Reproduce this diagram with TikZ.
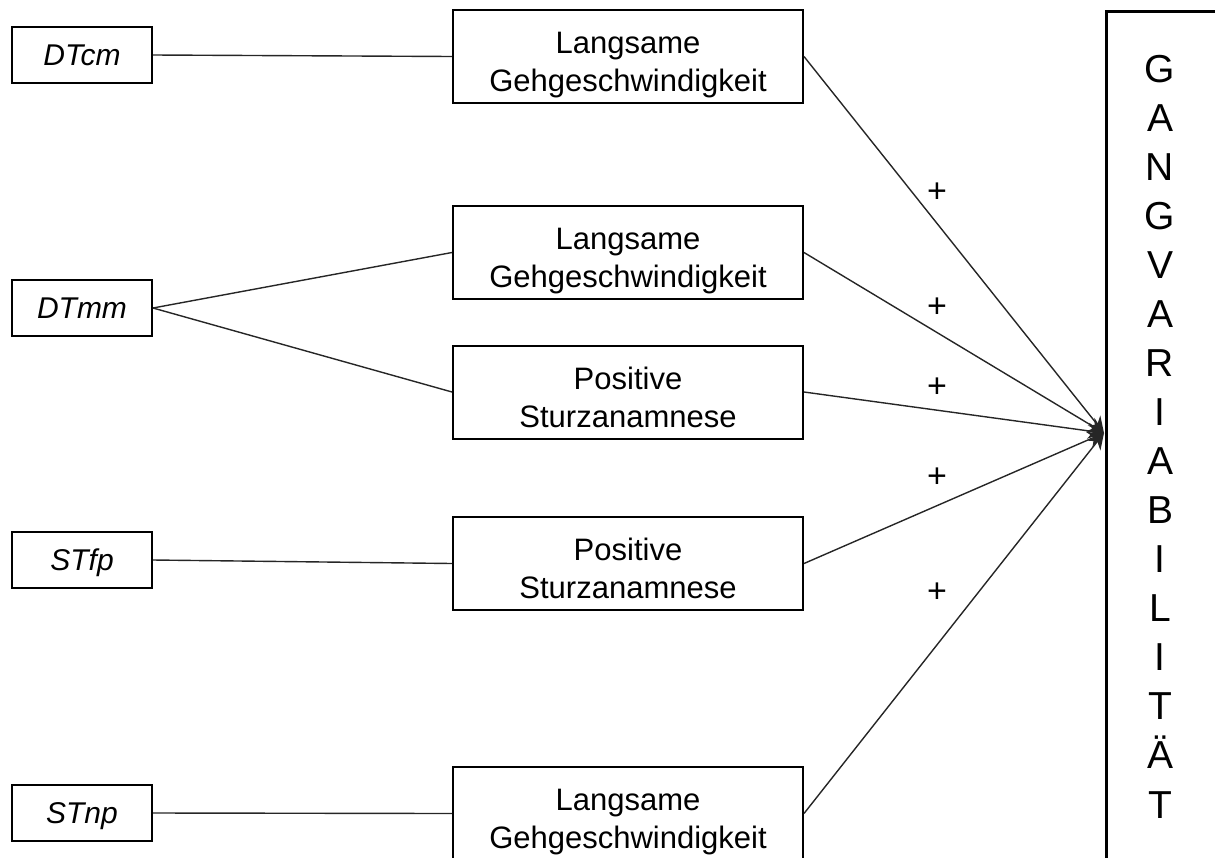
\documentclass[tikz,border=0pt]{standalone}
\usepackage{fontspec}
\setmainfont{Liberation Sans}
\usepackage{tikz}
\usetikzlibrary{arrows.meta}
\tikzset{
    every node/.style={font=\fontsize{15.5}{18.8}\selectfont},
    factor/.style={draw, rectangle, line width=1pt, minimum width=70pt, minimum height=28pt, inner sep=0pt,
        text height=10.6pt, text depth=0pt, font=\fontsize{15}{17}\selectfont\itshape},
    effect/.style={draw, rectangle, line width=1pt, minimum width=175pt, minimum height=46.5pt, inner sep=0pt, align=center,
        text height=35pt, text depth=0pt},
    link/.style={line width=0.7pt, draw=black!85},
    sign/.style={font=\fontsize{17}{19}\selectfont},
    letter/.style={anchor=base, inner sep=0pt, font=\fontsize{19.5}{22}\selectfont}
}

\begin{document}
\begin{tikzpicture}[x=0.5pt, y=-0.5pt]
        \useasboundingbox (0,0) rectangle (1215,857);
        \clip (0,0) rectangle (1215,857);

        \node[factor] (dtcm) at (82,55) {DTcm};
        \node[factor] (dtmm) at (82,308) {DTmm};
        \node[factor] (stfp) at (82,560) {STfp};
        \node[factor] (stnp) at (82,813) {STnp};

        \node[effect] (slow1) at (628,56.5) {Langsame\\Gehgeschwindigkeit};
        \node[effect] (slow2) at (628,252.5) {Langsame\\Gehgeschwindigkeit};
        \node[effect] (fall1) at (628,392) {Positive\\Sturzanamnese};
        \node[effect] (fall2) at (628,563.5) {Positive\\Sturzanamnese};
        \node[effect] (slow3) at (628,813.5) {Langsame\\Gehgeschwindigkeit};

        \node[draw, rectangle, line width=1.5pt, anchor=north west, minimum width=77.5pt, minimum height=445pt, inner sep=0pt] (gait) at (1105,10) {};
        \foreach \c [count=\i] in {G,A,N,G,V,A,R,I,A,B,I,L,I,T,Ä,T}
            \node[letter] (g\i) at (1160,{82+(\i-1)*49.07}) {\c};

        \coordinate (tip) at (1104,433);

        \node[sign] (p1) at (937,193) {+};
        \node[sign] (p2) at (937,308) {+};
        \node[sign] (p3) at (937,388) {+};
        \node[sign] (p4) at (937,478) {+};
        \node[sign] (p5) at (937,593) {+};

        \draw[link] (dtcm.east) -- (slow1.west);
        \draw[link] (dtmm.east) -- (slow2.west);
        \draw[link] (dtmm.east) -- (fall1.west);
        \draw[link] (stfp.east) -- (fall2.west);
        \draw[link] (stnp.east) -- (slow3.west);

        \foreach \b in {slow1,slow2,fall1,fall2,slow3}
            \draw[link, -{Stealth[length=8pt, width=8pt]}] (\b.east) -- (tip);
    \end{tikzpicture}
\end{document}
